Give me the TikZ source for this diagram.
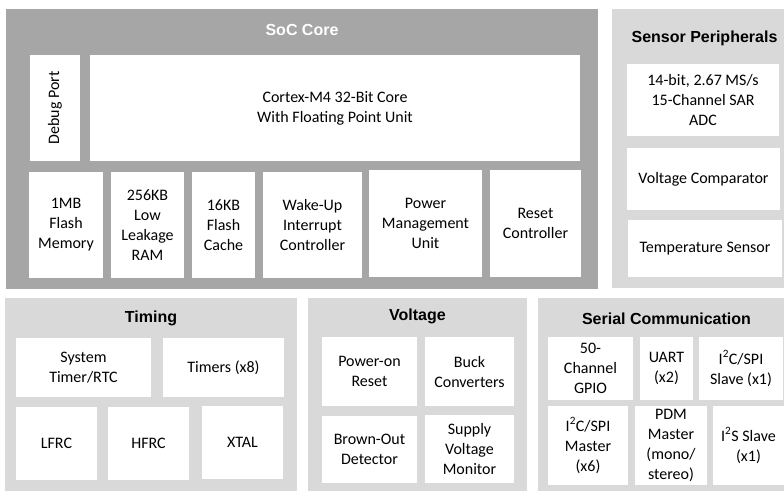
\documentclass[tikz,border=0pt]{standalone}
\usepackage{fontspec}
\setmainfont{Carlito}
\newfontfamily\headfont{Liberation Sans}
\usepackage{xcolor}
\usetikzlibrary{positioning}
\definecolor{socgray}{HTML}{A6A6A6}
\definecolor{panelgray}{HTML}{D9D9D9}

\begin{document}
\begin{tikzpicture}[x=1pt,y=-1pt,
		panel/.style={draw=none, inner sep=0pt, outer sep=0pt},
		box/.style={fill=white, draw=none, inner sep=0pt, outer sep=0pt, align=center, font=\fontsize{16}{20}\selectfont},
		head/.style={font=\headfont\bfseries\fontsize{16}{19}\selectfont}]
			\clip (0,0) rectangle (784,490);
			% SoC core
			\node [panel, fill=socgray, minimum width=592pt, minimum height=280pt] (soc) at (302,149) {};
			\node [head, text=white] (soctitle) at (302,30) {SoC Core};
			\node [box, rotate=90, minimum width=106pt, minimum height=50pt] (debug) at (55,108) {Debug Port};
			\node [box, minimum width=490pt, minimum height=106pt] (cortex) at (335,108) {Cortex-M4 32-Bit Core\\With Floating Point Unit};
			\node [box, minimum width=74pt, minimum height=106pt] (flash) at (66,225) {1MB\\Flash\\Memory};
			\node [box, minimum width=73pt, minimum height=106pt] (sram) at (147.5,225) {256KB\\Low\\Leakage\\RAM};
			\node [box, minimum width=63pt, minimum height=106pt] (cache) at (223.5,225) {16KB\\Flash\\Cache};
			\node [box, minimum width=99pt, minimum height=106pt] (wic) at (312.5,225) {Wake-Up\\Interrupt\\Controller};
			\node [box, minimum width=113pt, minimum height=107pt] (pmu) at (425.5,223.5) {Power\\Management\\Unit};
			\node [box, minimum width=91pt, minimum height=107pt] (rstc) at (535.5,223.5) {Reset\\Controller};
			% sensor peripherals
			\node [panel, fill=panelgray, minimum width=185pt, minimum height=279pt] (sensor) at (704.5,148.5) {};
			\node [head] (sensortitle) at (704.5,38) {Sensor Peripherals};
			\node [box, minimum width=152pt, minimum height=72pt] (adc) at (703,100) {14-bit, 2.67 MS/s\\15-Channel SAR\\ADC};
			\node [box, minimum width=153pt, minimum height=62pt] (vcomp) at (703.5,179) {Voltage Comparator};
			\node [box, minimum width=154pt, minimum height=57pt] (temp) at (705,248.5) {Temperature Sensor};
			% timing
			\node [panel, fill=panelgray, minimum width=292pt, minimum height=197pt] (timing) at (151,396.5) {};
			\node [head] (timingtitle) at (151,318) {Timing};
			\node [box, minimum width=135pt, minimum height=59pt] (stimer) at (83.5,367.5) {System\\Timer/RTC};
			\node [box, minimum width=121pt, minimum height=59pt] (timers) at (223.5,367.5) {Timers (x8)};
			\node [box, minimum width=81pt, minimum height=73pt] (lfrc) at (56.5,443.5) {LFRC};
			\node [box, minimum width=81pt, minimum height=73pt] (hfrc) at (148.5,443.5) {HFRC};
			\node [box, minimum width=81pt, minimum height=73pt] (xtal) at (242.5,442.5) {XTAL};
			% voltage
			\node [panel, fill=panelgray, minimum width=219pt, minimum height=197pt] (voltage) at (417.5,396.5) {};
			\node [head] (voltagetitle) at (417.5,316) {Voltage};
			\node [box, minimum width=95pt, minimum height=69pt] (por) at (369.5,371.5) {Power-on\\Reset};
			\node [box, minimum width=89pt, minimum height=69pt] (buck) at (469.5,371.5) {Buck\\Converters};
			\node [box, minimum width=95pt, minimum height=67pt] (bod) at (369.5,449.5) {Brown-Out\\Detector};
			\node [box, minimum width=89pt, minimum height=68pt] (svm) at (469.5,449) {Supply\\Voltage\\Monitor};
			% serial communication
			\node [panel, fill=panelgray, minimum width=257pt, minimum height=197pt] (serial) at (666.5,396.5) {};
			\node [head] (serialtitle) at (666.5,319) {Serial Communication};
			\node [box, minimum width=85pt, minimum height=63pt] (gpio) at (590.5,368.5) {50-\\Channel\\GPIO};
			\node [box, minimum width=53pt, minimum height=63pt] (uart) at (666.5,368.5) {UART\\(x2)};
			\node [box, minimum width=84pt, minimum height=63pt] (i2cslave) at (741,368.5) {I\textsuperscript{2}C/SPI\\Slave (x1)};
			\node [box, minimum width=80pt, minimum height=79pt] (i2cmaster) at (588,445.5) {I\textsuperscript{2}C/SPI\\Master\\(x6)};
			\node [box, minimum width=72pt, minimum height=79pt] (pdm) at (671,445.5) {PDM\\Master\\(mono/\\stereo)};
			\node [box, minimum width=71pt, minimum height=79pt] (i2s) at (748.5,445.5) {I\textsuperscript{2}S Slave\\(x1)};
		\end{tikzpicture}
\end{document}
